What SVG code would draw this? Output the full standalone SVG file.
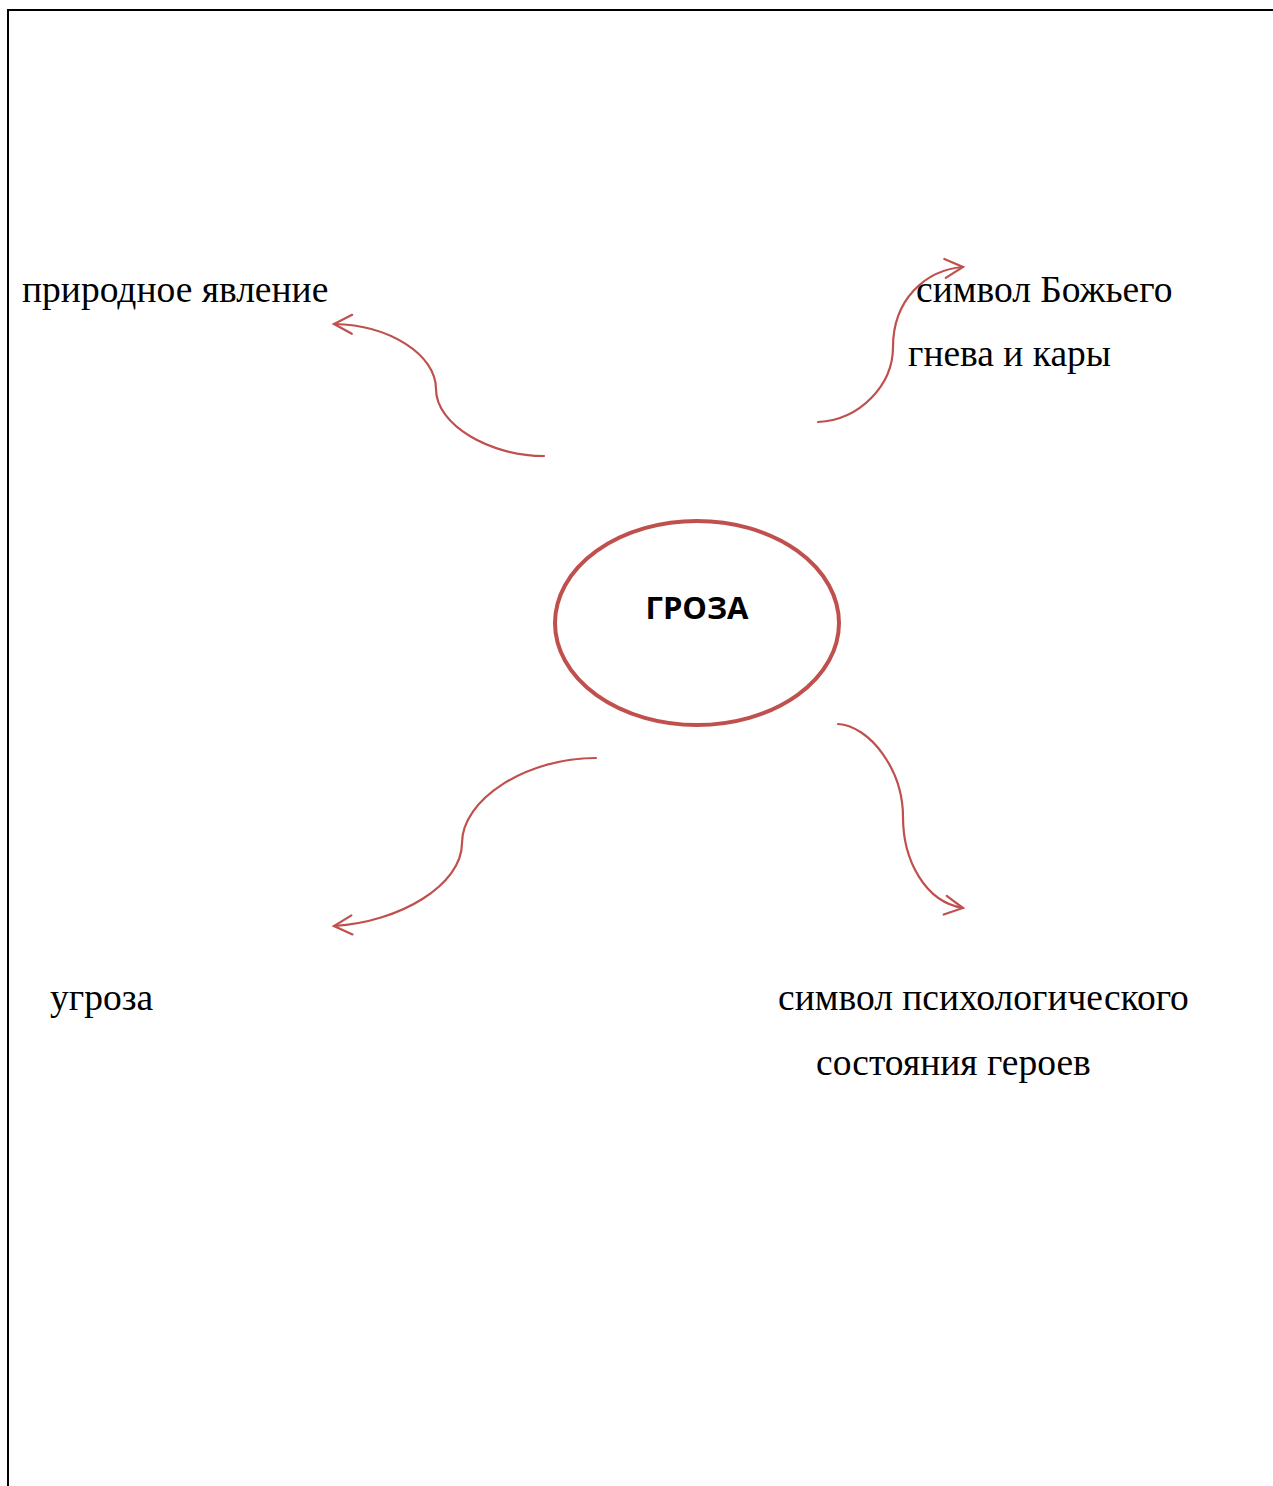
<svg xmlns="http://www.w3.org/2000/svg" width="1273" height="1486" viewBox="0 0 1273 1486">
<style>
.lbl{font-family:"Liberation Serif","Times New Roman",serif;font-size:37.5px;fill:#000}
.conn{fill:none;stroke:#c0504d;stroke-width:2.2;stroke-linecap:round}
.head{fill:none;stroke:#c0504d;stroke-width:2.2;stroke-linecap:round;stroke-linejoin:miter}
</style>
<defs>
<marker id="arr" markerUnits="userSpaceOnUse" markerWidth="40" markerHeight="40" refX="0" refY="0" orient="auto" overflow="visible">
<path class="head" d="M-18,-9.5 L0,0 L-18,9.5"/>
</marker>
</defs>
<rect width="1273" height="1486" fill="#fff"/>
<g id="frame">
<path d="M8,1486 L8,10 L1273,10" fill="none" stroke="#000" stroke-width="2"/>
</g>
<g id="connectors">
<path class="conn" marker-end="url(#arr)" d="M544,456 C490,456 436,425 436,389 C436,355 390,325 334,324"/>
<path class="conn" marker-end="url(#arr)" d="M818,422 C860,420 893,385 893,347 C893,300 925,270 963,267"/>
<path class="conn" marker-end="url(#arr)" d="M596,758 C525,758 462,800 462,843 C462,885 400,922 334,926"/>
<path class="conn" marker-end="url(#arr)" d="M838,724 C870,726 903,770 903,817 C903,860 925,902 963,908"/>
</g>
<g id="node-center">
<ellipse cx="697" cy="623" rx="142" ry="102" fill="#fff" stroke="#c0504d" stroke-width="4"/>
<text x="697" y="619" text-anchor="middle" font-family="'Open Sans','Noto Sans',sans-serif" font-weight="bold" font-size="31px" fill="#000">ГРОЗА</text>
</g>
<g id="node-nature">
<text class="lbl" x="22" y="302">природное явление</text>
</g>
<g id="node-wrath">
<text class="lbl" x="916" y="302">символ Божьего</text>
<text class="lbl" x="908" y="366">гнева и кары</text>
</g>
<g id="node-threat">
<text class="lbl" x="50" y="1010">угроза</text>
</g>
<g id="node-psych">
<text class="lbl" x="778" y="1010">символ психологического</text>
<text class="lbl" x="816" y="1075">состояния героев</text>
</g>
</svg>
